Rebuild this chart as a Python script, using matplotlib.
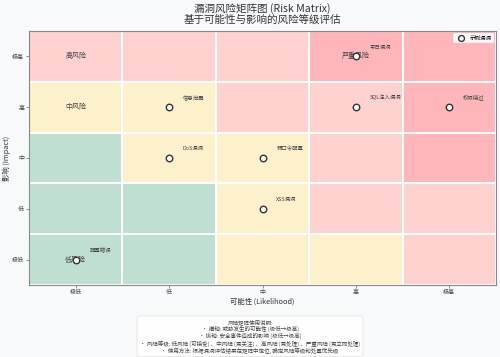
import numpy as np
import matplotlib.pyplot as plt
from matplotlib.colors import ListedColormap

plt.rcParams['font.family'] = ['Noto Sans CJK SC', 'DejaVu Sans']
plt.rcParams['axes.unicode_minus'] = False

likelihood = ['极低', '低', '中', '高', '极高']
impact = ['极低', '低', '中', '高', '极高']

# risk level per cell: 0 low, 1 medium, 2 high, 3 critical
# rows = impact (极低 -> 极高), cols = likelihood (极低 -> 极高)
levels = [
    [0, 0, 1, 1, 2],
    [0, 0, 1, 2, 2],
    [0, 1, 1, 2, 3],
    [1, 1, 2, 2, 3],
    [2, 2, 2, 3, 3],
]
level_colors = ['#bfdfd0', '#fdf1cb', '#ffd1cf', '#ffb6bb']

zone_names = ['低风险', '中风险', '高风险', '严重风险']
zone_x = [0, 0, 0, 3]
zone_y = [0, 3, 4, 4]

vuln_names = ['零日漏洞', '信息泄露', 'SQL注入漏洞', '权限绕过', 'DoS漏洞', '弱口令配置', 'XSS漏洞', '配置错误']
vuln_x = [3, 1, 3, 4, 1, 2, 2, 0]
vuln_y = [4, 3, 3, 3, 2, 2, 1, 0]

note = ('风险矩阵使用说明:\n'
        '• 横轴: 威胁发生的可能性 (极低→极高)\n'
        '• 纵轴: 安全事件造成的影响 (极低→极高)\n'
        '• 风险等级: 低风险 (可接受) 、中风险 (需关注) 、高风险 (需处理) 、严重风险 (需立即处理)\n'
        '• 使用方法: 根据漏洞评估结果在矩阵中定位, 确定风险等级和处置优先级')

fig = plt.figure(figsize=(5, 3.57), dpi=100, facecolor='#f8f9fa')
ax = fig.add_axes([0.058, 0.202, 0.934, 0.711])

cmap = ListedColormap(level_colors)
edges = np.arange(-0.5, 5.5, 1)
ax.pcolormesh(edges, edges, np.array(levels), cmap=cmap, vmin=-0.5, vmax=3.5,
              edgecolors='white', linewidth=1.2)

for name, x, y in zip(zone_names, zone_x, zone_y):
    ax.text(x, y, name, ha='center', va='center', fontsize=5, color='#444444')

ax.scatter(vuln_x, vuln_y, s=22, facecolor='white', edgecolor='#333333',
           linewidth=1.0, zorder=5, label='示例漏洞')
for name, x, y in zip(vuln_names, vuln_x, vuln_y):
    ax.annotate(name, (x, y), xytext=(10, 5), textcoords='offset points',
                fontsize=3.9, color='#444444', ha='left', va='bottom')

ax.set_xlim(-0.5, 4.5)
ax.set_ylim(-0.5, 4.5)
ax.set_xticks(range(5))
ax.set_xticklabels(likelihood, fontsize=4.3, color='#444444')
ax.set_yticks(range(5))
ax.set_yticklabels(impact, fontsize=4.3, color='#444444')
ax.tick_params(length=2, width=0.5, color='#666666', pad=1.5)
for sp in ax.spines.values():
    sp.set_color('#888888')
    sp.set_linewidth(0.8)

ax.set_xlabel('可能性 (Likelihood)', fontsize=5.3, color='#333333', labelpad=1.5)
ax.set_ylabel('影响 (Impact)', fontsize=5.3, color='#333333', labelpad=1)
ax.set_title('漏洞风险矩阵图 (Risk Matrix)\n基于可能性与影响的风险等级评估',
             fontsize=7.6, color='#333333', pad=6, linespacing=1.1)

leg = ax.legend(loc='upper right', fontsize=4, frameon=True, markerscale=0.9,
                borderpad=0.4, handletextpad=0.5, framealpha=0.9,
                borderaxespad=0.4)
leg.get_frame().set_linewidth(0.3)

fig.text(0.5, 0.058, note, ha='center', va='center', fontsize=4.0, color='#444444',
         multialignment='center', linespacing=1.2,
         bbox=dict(boxstyle='round,pad=0.5', facecolor='white', edgecolor='#dddddd',
                   linewidth=0.5, alpha=0.9))

fig.savefig('out.png', dpi=100, facecolor=fig.get_facecolor())
